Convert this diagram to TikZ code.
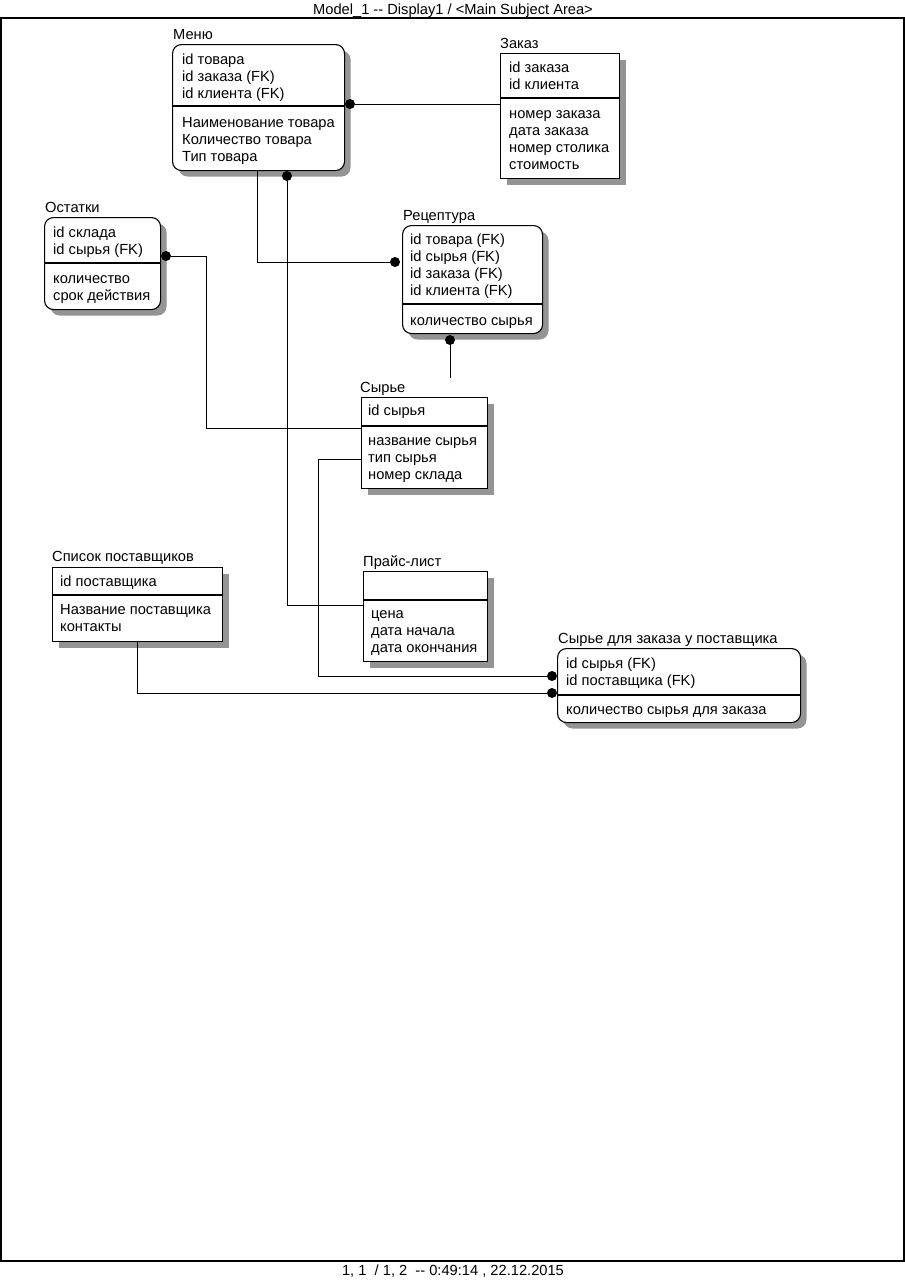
\documentclass[tikz,border=0pt]{standalone}
\usepackage{fontspec}
\setmainfont{Liberation Sans}
\usetikzlibrary{shadows}
\tikzset{
  ebox/.style={draw, line width=1.1pt, fill=white, inner sep=0pt, anchor=north west,
    drop shadow={shadow xshift=6pt, shadow yshift=-6pt, fill=black!42, opacity=1}},
  rbox/.style={ebox, rounded corners=9pt},
  attr/.style={anchor=base west, align=left, inner sep=0pt, font=\fontsize{14.67}{17}\selectfont},
  elabel/.style={anchor=base west, inner sep=0pt, font=\fontsize{14.67}{17}\selectfont},
  divline/.style={line width=1.1pt},
  conn/.style={line width=0.9pt},
  dotend/.style={circle, fill=black, draw=none, inner sep=0pt, minimum size=10pt},
  frameline/.style={line width=1.6pt},
  pagetext/.style={anchor=base, inner sep=0pt, font=\fontsize{14.67}{17}\selectfont},
}
\begin{document}
\begin{tikzpicture}[x=1pt, y=-1pt]
\useasboundingbox (0,0) rectangle (905,1280);
\fill[white] (0,0) rectangle (905,1280);

% page frame and texts
\draw[frameline] (1,18) rectangle (904,1261);
\node[pagetext] (title) at (453,14) {Model\_1 -{}- Display1 / <Main Subject Area>};
\node[pagetext] (footer) at (453,1275) {1, 1 \ / 1, 2 \ -{}- 0:49:14 , 22.12.2015};

% ---------- entities ----------
% (multi-line text nodes are placed by the baseline of their last line)
% Меню
\node[rbox, minimum width=172pt, minimum height=126pt] (menu) at (172,44) {};
\draw[divline] ([yshift=-62pt]menu.north west) -- ([yshift=-62pt]menu.north east);
\node[elabel] (menuL) at (173,39) {Меню};
\node[attr] (menuK) at (182,98) {id товара\\id заказа (FK)\\id клиента (FK)};
\node[attr] (menuA) at (182,161) {Наименование товара\\Количество товара\\Тип товара};

% Заказ
\node[ebox, minimum width=119pt, minimum height=125pt] (zakaz) at (500,53) {};
\draw[divline] ([yshift=-45pt]zakaz.north west) -- ([yshift=-45pt]zakaz.north east);
\node[elabel] (zakazL) at (500,48) {Заказ};
\node[attr] (zakazK) at (509,89) {id заказа\\id клиента};
\node[attr] (zakazA) at (509,169) {номер заказа\\дата заказа\\номер столика\\стоимость};

% Остатки
\node[rbox, minimum width=116pt, minimum height=92pt] (ost) at (44,217) {};
\draw[divline] ([yshift=-46pt]ost.north west) -- ([yshift=-46pt]ost.north east);
\node[elabel] (ostL) at (45,212) {Остатки};
\node[attr] (ostK) at (53,254) {id склада\\id сырья (FK)};
\node[attr] (ostA) at (53,300) {количество\\срок действия};

% Рецептура
\node[rbox, minimum width=140pt, minimum height=108pt] (rec) at (402,225) {};
\draw[divline] ([yshift=-79pt]rec.north west) -- ([yshift=-79pt]rec.north east);
\node[elabel] (recL) at (403,220) {Рецептура};
\node[attr] (recK) at (410,295) {id товара (FK)\\id сырья (FK)\\id заказа (FK)\\id клиента (FK)};
\node[attr] (recA) at (410,325) {количество сырья};

% Сырье
\node[ebox, minimum width=126pt, minimum height=91pt] (syr) at (361,397) {};
\draw[divline] ([yshift=-29pt]syr.north west) -- ([yshift=-29pt]syr.north east);
\node[elabel] (syrL) at (360,392) {Сырье};
\node[attr] (syrK) at (368,415) {id сырья};
\node[attr] (syrA) at (368,479) {название сырья\\тип сырья\\номер склада};

% Прайс-лист
\node[ebox, minimum width=124pt, minimum height=90pt] (price) at (363,571) {};
\draw[divline] ([yshift=-29pt]price.north west) -- ([yshift=-29pt]price.north east);
\node[elabel] (priceL) at (363,566) {Прайс-лист};
\node[attr] (priceA) at (371,652) {цена\\дата начала\\дата окончания};

% Список поставщиков
\node[ebox, minimum width=170pt, minimum height=74pt] (spis) at (52,567) {};
\draw[divline] ([yshift=-28pt]spis.north west) -- ([yshift=-28pt]spis.north east);
\node[elabel] (spisL) at (52,561) {Список поставщиков};
\node[attr] (spisK) at (60,586) {id поставщика};
\node[attr] (spisA) at (60,631) {Название поставщика\\контакты};

% Сырье для заказа у поставщика
\node[rbox, minimum width=243pt, minimum height=74pt] (sz) at (557,648) {};
\draw[divline] ([yshift=-47pt]sz.north west) -- ([yshift=-47pt]sz.north east);
\node[elabel] (szL) at (558,643) {Сырье для заказа у поставщика};
\node[attr] (szK) at (566,685) {id сырья (FK)\\id поставщика (FK)};
\node[attr] (szA) at (566,714) {количество сырья для заказа};

% ---------- connectors ----------
% Меню -- Заказ
\node[dotend] (d1) at (350,104) {};
\draw[conn] (d1) -- (d1 -| zakaz.west);

% Меню -- Рецептура
\node[dotend] (d2) at (395,262) {};
\coordinate (c2) at (257,262);
\draw[conn] (menu.south -| c2) -- (c2) -- (d2);

% Меню -- Прайс-лист
\node[dotend] (d3) at (287,176) {};
\coordinate (c3) at (287,605);
\draw[conn] (d3) -- (c3) -- (c3 -| price.west);

% Остатки -- Сырье
\node[dotend] (d4) at (166,256) {};
\coordinate (c4a) at (206,256);
\coordinate (c4b) at (206,428);
\draw[conn] (d4) -- (c4a) -- (c4b) -- (c4b -| syr.west);

% Рецептура -- Сырье
\node[dotend] (d5) at (450,340) {};
\coordinate (c5) at (450,378);
\draw[conn] (d5) -- (c5);

% Сырье -- Сырье для заказа
\node[dotend] (d6) at (552,676) {};
\coordinate (c6a) at (318,459);
\coordinate (c6b) at (318,676);
\draw[conn] (c6a -| syr.west) -- (c6a) -- (c6b) -- (d6);

% Список поставщиков -- Сырье для заказа
\node[dotend] (d7) at (552,693) {};
\coordinate (c7) at (137,693);
\draw[conn] (spis.south -| c7) -- (c7) -- (d7);
\end{tikzpicture}
\end{document}
